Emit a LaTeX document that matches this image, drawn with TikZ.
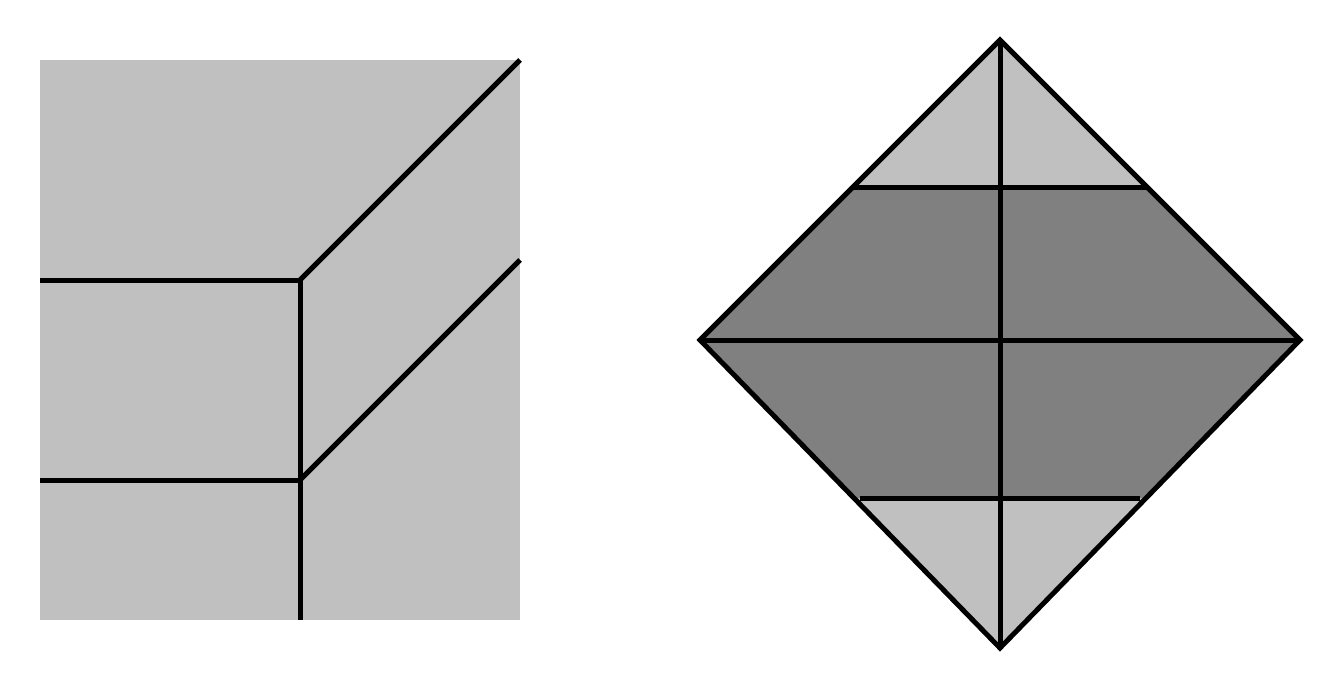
\documentclass[tikz,border=0pt]{standalone}
\definecolor{lightg}{HTML}{C0C0C0}
\definecolor{darkg}{HTML}{808080}
\begin{document}
\begin{tikzpicture}[x=0.5pt,y=-0.5pt,
  edge/.style={line width=2.5pt,line join=miter},
]
\useasboundingbox (0,0) rectangle (1340,690);
% left panel
\fill[lightg] (40,60) rectangle (520,620);
\coordinate (a) at (300,280);
\coordinate (b) at (300,480);
\draw[edge] (40,280) -- (a);
\draw[edge] (40,480) -- (b);
\draw[edge] (300,620) -- (a);
\draw[edge] (a) -- (520,60);
\draw[edge] (b) -- (520,260);
% right panel
\coordinate (T) at (1000,40);
\coordinate (L) at (700,340);
\coordinate (R) at (1300,340);
\coordinate (B) at (1000,648);
\fill[lightg] (T) -- (R) -- (B) -- (L) -- cycle;
\fill[darkg] (852,188) -- (1148,188) -- (R) -- (1146,498) -- (854,498) -- (L) -- cycle;
\draw[edge] (852,188) -- (1148,188);
\draw[edge] (860,498) -- (1140,498);
\draw[edge] (L) -- (R);
\draw[edge] (T) -- (B);
\draw[edge] (T) -- (R) -- (B) -- (L) -- cycle;
\end{tikzpicture}
\end{document}
